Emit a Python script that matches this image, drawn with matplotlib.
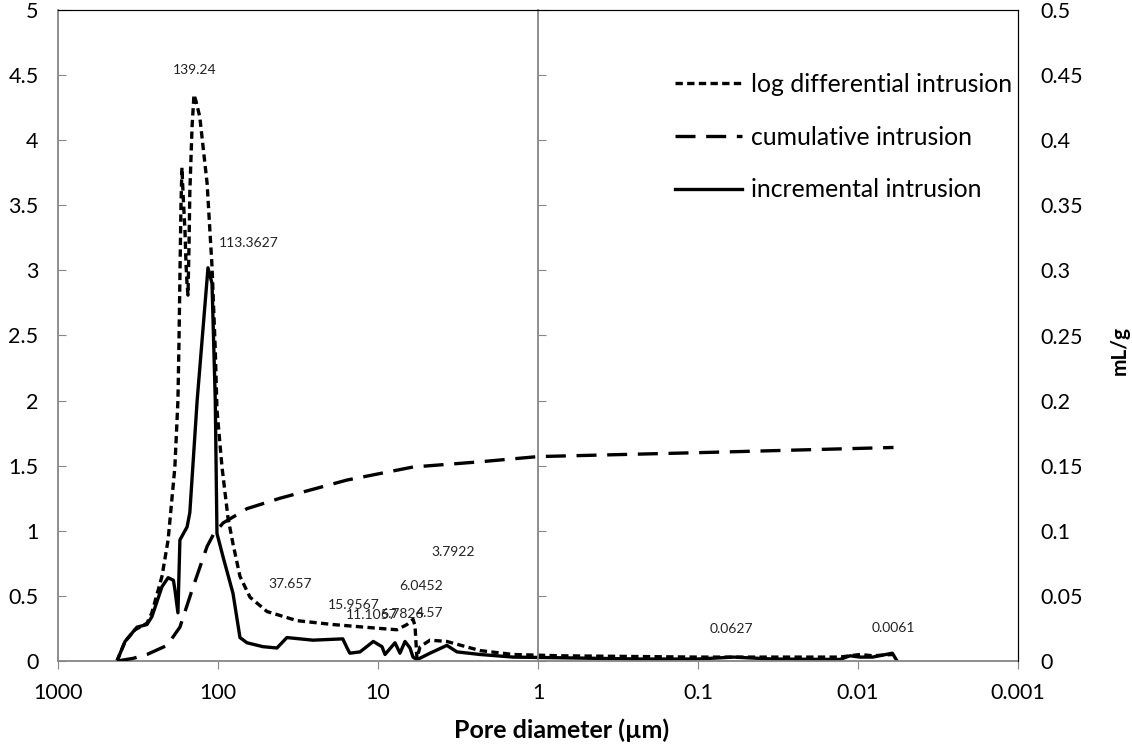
import matplotlib
matplotlib.use('Agg')
import matplotlib.pyplot as plt
from matplotlib.ticker import NullFormatter

plt.rcParams['font.family'] = ['Lato', 'DejaVu Sans']

# incremental intrusion (solid), left axis
inc_d = [428, 381, 321, 278, 259, 224, 205, 190, 186, 178, 173, 156, 150, 135,
         115.5, 109, 104, 101.5, 93, 80.6, 72.9, 65.9, 52.4, 42.8, 37.1, 25.5,
         16.6, 15.6, 15.0, 12.95, 10.7, 9.44, 9.04, 7.83, 7.29, 6.78, 6.31,
         6.04, 5.71, 4.73, 3.71, 3.21, 2.30, 1.43, 0.73, 0.23, 0.101, 0.060,
         0.034, 0.013, 0.0112, 0.0097, 0.0081, 0.0061, 0.0057]
inc_v = [0.0, 0.15, 0.26, 0.28, 0.34, 0.57, 0.64, 0.62, 0.55, 0.37, 0.93, 1.03,
         1.14, 2.0, 3.02, 2.9, 2.0, 0.98, 0.80, 0.52, 0.18, 0.14, 0.11, 0.10,
         0.18, 0.16, 0.17, 0.10, 0.06, 0.07, 0.15, 0.11, 0.05, 0.14, 0.06, 0.15,
         0.10, 0.03, 0.01, 0.06, 0.12, 0.07, 0.05, 0.03, 0.025, 0.015, 0.015,
         0.03, 0.015, 0.012, 0.04, 0.03, 0.03, 0.06, 0.0]

# log differential intrusion (short dash), left axis
logd_d = [428, 381, 330, 278, 259, 224, 205, 186, 178, 175.4, 170.4, 168,
          165.5, 160.8, 158.5, 156.2, 154, 151.7, 150, 145.3, 141.3, 137.3,
          130, 117, 109, 104, 101.5, 94.4, 86.6, 80.6, 72.9, 63.1, 49.4, 32.1,
          19.1, 9.7, 7.61, 6.59, 6.04, 5.87, 5.71, 5.46, 4.73, 3.71, 2.30,
          1.43, 0.73, 0.101, 0.034, 0.013, 0.0097, 0.0081, 0.0061]
logd_v = [0.0, 0.15, 0.24, 0.29, 0.37, 0.65, 0.93, 1.49, 2.0, 2.44, 3.5, 3.79,
          3.6, 3.3, 3.05, 2.9, 2.81, 3.2, 3.6, 4.1, 4.35, 4.3, 4.18, 3.67, 3.03,
          2.39, 1.93, 1.49, 1.10, 0.90, 0.65, 0.49, 0.38, 0.31, 0.28, 0.25,
          0.24, 0.28, 0.32, 0.27, 0.02, 0.11, 0.16, 0.15, 0.08, 0.05, 0.04,
          0.03, 0.03, 0.03, 0.05, 0.04, 0.05]

# cumulative intrusion (long dash), right axis, mL/g
cum_d = [428, 340, 278, 208, 173, 143, 117, 107, 93, 65.9, 41, 15.6, 6.04,
         2.3, 1.0, 0.101, 0.006]
cum_v = [0.0, 0.002, 0.005, 0.012, 0.026, 0.057, 0.088, 0.097, 0.106, 0.117,
         0.125, 0.139, 0.149, 0.153, 0.157, 0.160, 0.164]

# peak labels
peak_labels = ['139.24', '113.3627', '37.657', '15.9567', '11.1057', '6.7826',
               '6.0452', '4.57', '3.7922', '0.0627', '0.0061']
peak_x = [139, 64, 35.5, 14.1, 11.0, 7.1, 5.4, 4.75, 3.4, 0.0622, 0.00604]
peak_y = [4.54, 3.21, 0.59, 0.43, 0.35, 0.36, 0.576, 0.37, 0.84, 0.246, 0.25]

left_ticks = [0, 0.5, 1, 1.5, 2, 2.5, 3, 3.5, 4, 4.5, 5]
left_labels = ['0', '0.5', '1', '1.5', '2', '2.5', '3', '3.5', '4', '4.5', '5']
right_ticks = [0, 0.05, 0.1, 0.15, 0.2, 0.25, 0.3, 0.35, 0.4, 0.45, 0.5]
right_labels = ['0', '0.05', '0.1', '0.15', '0.2', '0.25', '0.3', '0.35',
                '0.4', '0.45', '0.5']
x_ticks = [1000, 100, 10, 1, 0.1, 0.01, 0.001]
x_labels = ['1000', '100', '10', '1', '0.1', '0.01', '0.001']

gray = '#868686'

fig = plt.figure(figsize=(11.32, 7.47), dpi=100)
ax = fig.add_axes([58 / 1132, 86 / 747, 960 / 1132, 651 / 747])

# vertical axis crossing at 1 um, ticks pointing right
mid = ax.inset_axes([0.5, 0, 0.5, 1])
mid.patch.set_visible(False)
for s in ['top', 'right', 'bottom']:
    mid.spines[s].set_visible(False)
mid.spines['left'].set_color(gray)
mid.spines['left'].set_linewidth(1.3)
mid.set_ylim(0, 5)
mid.set_yticks(left_ticks)
mid.yaxis.set_major_formatter(NullFormatter())
mid.set_xticks([])
mid.tick_params(axis='y', direction='in', length=6, color=gray)

ax2 = ax.twinx()

l1, = ax.plot(logd_d, logd_v, color='black', lw=2.4, dashes=(2.2, 1.3),
              label='log differential intrusion')
l3, = ax.plot(inc_d, inc_v, color='black', lw=2.4,
              label='incremental intrusion')
l2, = ax2.plot(cum_d, cum_v, color='black', lw=2.4, dashes=(6, 3.2),
               label='cumulative intrusion')

ax.set_xscale('log')
ax.set_xlim(1000, 0.001)
ax.set_ylim(0, 5)
ax2.set_ylim(0, 0.5)
ax.set_yticks(left_ticks)
ax.set_yticklabels(left_labels)
ax2.set_yticks(right_ticks)
ax2.set_yticklabels(right_labels)
ax.set_xticks(x_ticks)
ax.set_xticklabels(x_labels)
ax.xaxis.set_minor_locator(matplotlib.ticker.NullLocator())

ax.tick_params(axis='y', direction='in', length=6, color=gray, labelsize=15.5, pad=14)
ax.tick_params(axis='x', direction='out', length=6, color=gray, labelsize=15.5, pad=10)
ax2.tick_params(axis='y', length=0, labelsize=15.5, pad=16)
for s in ['left', 'bottom']:
    ax.spines[s].set_color(gray)
    ax.spines[s].set_linewidth(1.3)
for s in ['top', 'right']:
    ax.spines[s].set_color('black')
    ax2.spines[s].set_color('black')
ax2.spines['left'].set_visible(False)
ax2.spines['bottom'].set_visible(False)

for lab, xx, yy in zip(peak_labels, peak_x, peak_y):
    ax.text(xx, yy, lab, fontsize=10, ha='center', va='center', color='#222222')

ax.legend(handles=[l1, l2, l3], loc='upper left',
          bbox_to_anchor=(675 / 1132, (747 - 73) / 747),
          bbox_transform=fig.transFigure, frameon=False, fontsize=17.8,
          handlelength=2.7, handletextpad=0.38, labelspacing=1.2,
          borderpad=0, borderaxespad=0)

fig.text(562 / 1132, 17 / 747, 'Pore diameter (µm)', ha='center', va='center',
         fontsize=18, fontweight='bold')
fig.text(1120 / 1132, (747 - 350) / 747, 'mL/g', ha='center', va='center',
         rotation=90, fontsize=15, fontweight='bold')

fig.savefig('out.png', dpi=100)
